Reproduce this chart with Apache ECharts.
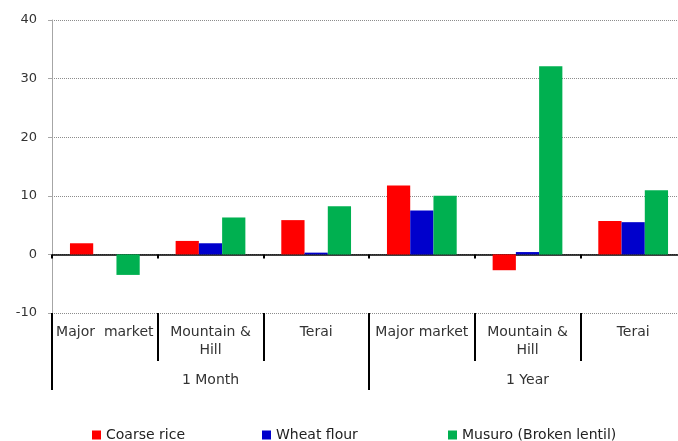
<!DOCTYPE html>
<html><head><meta charset="utf-8">
<script src="https://cdn.jsdelivr.net/npm/echarts@6/dist/echarts.min.js"></script>
<style>html,body{margin:0;padding:0;background:#fff}#c{width:678px;height:441px}</style>
</head><body><div id="c"></div>
<script>
var categories = ['Major  market', 'Mountain &\nHill', 'Terai', 'Major market', 'Mountain &\nHill', 'Terai'];
var groups = ['1 Month', '1 Year'];
var coarseRice = [1.9, 2.3, 5.85, 11.75, -2.7, 5.7];
var wheatFlour = [0, 1.9, 0.3, 7.5, 0.4, 5.5];
var musuro = [-3.5, 6.3, 8.2, 10.0, 32.1, 10.95];
var seriesNames = ['Coarse rice', 'Wheat flour', 'Musuro (Broken lentil)'];
var yTicks = {min: -10, max: 40, interval: 10};

var font = 'DejaVu Sans';
var txt = '#333';
var legendLefts = [87, 257, 443];
var chart = echarts.init(document.getElementById('c'));
chart.setOption({
  animation: false,
  textStyle: {fontFamily: font},
  grid: {left: 52, top: 20, width: 634, bottom: 128, containLabel: false, outerBoundsMode: 'none'},
  legend: seriesNames.map(function (n, i) {
    return {left: legendLefts[i], top: 423, itemWidth: 9, itemHeight: 9, icon: 'rect',
      textStyle: {fontSize: 14, color: '#222', fontFamily: font}, data: [n]};
  }),
  xAxis: [
    {type: 'category', data: categories, position: 'bottom',
     axisLine: {onZero: true, lineStyle: {color: '#000', width: 1.5}},
     axisTick: {show: true, interval: 0, length: 4, lineStyle: {color: '#000', width: 2}},
     axisLabel: {show: false}, splitLine: {show: false}},
    {type: 'category', data: categories, position: 'bottom',
     axisLine: {show: false, onZero: false},
     axisTick: {show: true, interval: 0, length: 48, lineStyle: {color: '#000', width: 2}},
     axisLabel: {interval: 0, margin: 10, fontSize: 14, lineHeight: 18, color: txt, fontFamily: font},
     splitLine: {show: false}},
    {type: 'category', data: groups, position: 'bottom',
     axisLine: {show: false, onZero: false},
     axisTick: {show: true, interval: 0, length: 77, lineStyle: {color: '#000', width: 2}},
     axisLabel: {interval: 0, margin: 59, fontSize: 14, lineHeight: 16, color: txt, fontFamily: font},
     splitLine: {show: false}}
  ],
  yAxis: {
    type: 'value', min: yTicks.min, max: yTicks.max, interval: yTicks.interval,
    axisLine: {show: true, lineStyle: {color: '#a6a6a6', width: 1}},
    axisTick: {show: true, length: 4, lineStyle: {color: '#a6a6a6'}},
    axisLabel: {fontSize: 13, color: txt, margin: 15, fontFamily: font},
    splitLine: {show: true, lineStyle: {type: 'dotted', color: '#8c8c8c', width: 1}}
  },
  series: [
    {name: seriesNames[0], type: 'bar', data: coarseRice, barGap: '0%', barCategoryGap: '34%',
     itemStyle: {color: '#ff0000'}},
    {name: seriesNames[1], type: 'bar', data: wheatFlour, barGap: '0%', barCategoryGap: '34%',
     itemStyle: {color: '#0000cc'}},
    {name: seriesNames[2], type: 'bar', data: musuro, barGap: '0%', barCategoryGap: '34%',
     itemStyle: {color: '#00b050'}}
  ]
});
</script></body></html>
